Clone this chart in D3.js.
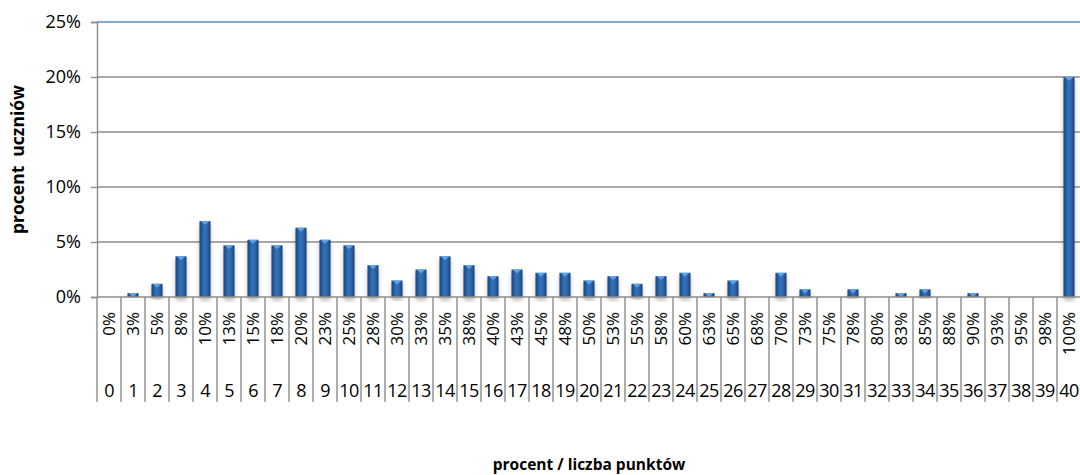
<!DOCTYPE html>
<html><head><meta charset="utf-8">
<script src="https://cdn.jsdelivr.net/npm/d3@7"></script>
<style>body{margin:0;background:#fff}svg{display:block}</style>
</head><body>
<svg id="c" width="1080" height="475"></svg>
<script>
const points = d3.range(0, 41).map(String);
const percentLabels = ["0%","3%","5%","8%","10%","13%","15%","18%","20%","23%","25%","28%","30%","33%","35%","38%","40%","43%","45%","48%","50%","53%","55%","58%","60%","63%","65%","68%","70%","73%","75%","78%","80%","83%","85%","88%","90%","93%","95%","98%","100%"];
const values = [0,0.36,1.2,3.7,6.9,4.7,5.2,4.7,6.3,5.2,4.7,2.9,1.5,2.5,3.7,2.9,1.9,2.5,2.2,2.2,1.5,1.9,1.2,1.9,2.2,0.36,1.5,0,2.2,0.7,0,0.7,0,0.36,0.7,0,0.36,0,0,0,20];
const yTicks = [0,5,10,15,20,25];

const svg = d3.select("#c");
const pL = 97, pR = 1081, pT = 22, pB = 297;
const x = d3.scaleBand().domain(points).range([pL, pR]).paddingInner(0.54).paddingOuter(0.27);
const xb = d3.scaleBand().domain(points).range([pL, pR]);
const y = d3.scaleLinear().domain([0, 25]).range([pB, pT]);

const defs = svg.append("defs");
const g = defs.append("linearGradient").attr("id","barg").attr("x1","0").attr("x2","1").attr("y1","0").attr("y2","0");
g.append("stop").attr("offset","0").attr("stop-color","#1c4479");
g.append("stop").attr("offset","0.25").attr("stop-color","#2a5fa3");
g.append("stop").attr("offset","0.5").attr("stop-color","#3572bd");
g.append("stop").attr("offset","0.75").attr("stop-color","#2a5fa3");
g.append("stop").attr("offset","1").attr("stop-color","#1a3f70");
const f = defs.append("filter").attr("id","sh").attr("x","-60%").attr("y","-10%").attr("width","220%").attr("height","130%");
f.append("feGaussianBlur").attr("in","SourceAlpha").attr("stdDeviation","2.2").attr("result","b");
f.append("feOffset").attr("in","b").attr("dx","0").attr("dy","3").attr("result","o");
f.append("feComponentTransfer").attr("in","o").attr("result","o2").append("feFuncA").attr("type","linear").attr("slope","0.3");
const m = f.append("feMerge"); m.append("feMergeNode").attr("in","o2"); m.append("feMergeNode").attr("in","SourceGraphic");

// gridlines
svg.append("g").selectAll("line").data(yTicks.filter(d => d > 0)).join("line")
  .attr("x1", pL).attr("x2", pR).attr("y1", d => y(d)).attr("y2", d => y(d))
  .attr("stroke", d => d === 25 ? "#5f8cc4" : "#8c8c8c").attr("stroke-width", 1.4);

// y axis
const ya = svg.append("g").attr("transform", `translate(${pL},0)`)
  .call(d3.axisLeft(y).tickValues(yTicks).tickFormat(d => d + "%").tickSize(6).tickPadding(10));
ya.select(".domain").attr("stroke", "#8c8c8c").attr("stroke-width", 1.4);
ya.selectAll(".tick line").attr("stroke", "#8c8c8c").attr("stroke-width", 1.4);
ya.selectAll("text").attr("font-family", "Open Sans, sans-serif").attr("font-size", 18).attr("fill", "#000");

// bars
const bars = svg.append("g");
const bg = bars.selectAll("g").data(values.map((v, i) => ({ k: points[i], v }))).join("g")
  .filter(d => d.v > 0);
bg.append("rect").attr("x", d => x(d.k)).attr("width", x.bandwidth())
  .attr("y", d => y(d.v)).attr("height", d => y(0) - y(d.v))
  .attr("fill", "url(#barg)").attr("filter", "url(#sh)");
bg.append("path").attr("d", d => {
  const x0 = x(d.k), w = x.bandwidth(), t = y(d.v), h = Math.min(4, y(0) - y(d.v));
  return `M${x0 + 1},${t}L${x0 + w - 1},${t}L${x0 + w / 2},${t + h}Z`;
}).attr("fill", "#5ea3ea");

// x axis baseline
svg.append("line").attr("x1", pL).attr("x2", pR).attr("y1", pB).attr("y2", pB)
  .attr("stroke", "#8c8c8c").attr("stroke-width", 1.4);

// category separators
svg.append("g").selectAll("line").data(points.concat(["end"])).join("line")
  .attr("x1", d => d === "end" ? pR : xb(d)).attr("x2", d => d === "end" ? pR : xb(d))
  .attr("y1", pB).attr("y2", 402).attr("stroke", "#8c8c8c").attr("stroke-width", 1.4);

// percent labels
svg.append("g").selectAll("text").data(percentLabels).join("text")
  .attr("transform", (d, i) => `translate(${xb(points[i]) + xb.bandwidth() / 2 + 6},312) rotate(-90)`)
  .attr("text-anchor", "end").attr("font-family", "Open Sans, sans-serif").attr("font-size", 17)
  .text(d => d);

// number labels
svg.append("g").selectAll("text").data(points).join("text")
  .attr("x", d => xb(d) + xb.bandwidth() / 2).attr("y", 397)
  .attr("text-anchor", "middle").attr("font-family", "Open Sans, sans-serif").attr("font-size", 18)
  .attr("letter-spacing", "-0.6")
  .text(d => d);

// axis titles
svg.append("text").attr("transform", `translate(24,${(pT + pB) / 2}) rotate(-90)`)
  .attr("text-anchor", "middle").attr("font-family", "Open Sans, sans-serif").attr("font-weight", "bold")
  .attr("font-size", 17.5).style("white-space", "pre").text("procent  uczniów");
svg.append("text").attr("x", (pL + pR) / 2).attr("y", 470)
  .attr("text-anchor", "middle").attr("font-family", "Open Sans, sans-serif").attr("font-weight", "bold")
  .attr("font-size", 15.5).text("procent / liczba punktów");
</script>
</body></html>
